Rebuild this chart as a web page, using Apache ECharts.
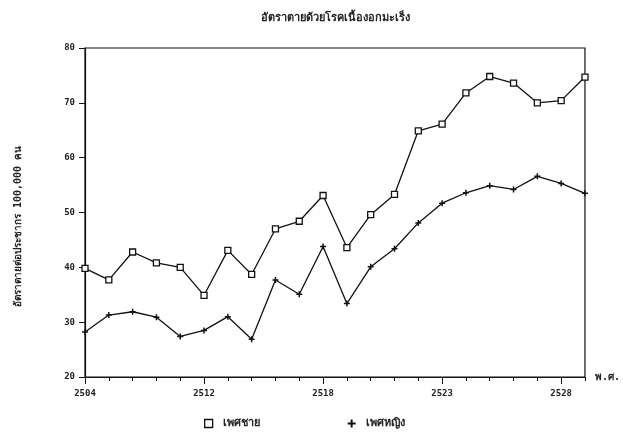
<!DOCTYPE html>
<html>
<head>
<meta charset="utf-8">
<script src="https://cdn.jsdelivr.net/npm/echarts@6/dist/echarts.min.js"></script>
<style>html,body{margin:0;padding:0;background:#fff;}#c{width:623px;height:448px;}</style>
</head>
<body>
<div id="c"></div>
<script>
// 22 yearly points; labels shown only at selected positions as in the original
const categories = ['0','1','2','3','4','5','6','7','8','9','10','11','12','13','14','15','16','17','18','19','20','21'];
const tickLabels = ['2504','','','','','2512','','','','','2518','','','','','2523','','','','','2528',''];
const maleValues = [39.8, 37.7, 42.8, 40.8, 40.0, 34.9, 43.1, 38.7, 47.0, 48.4, 53.1, 43.6, 49.6, 53.3, 64.9, 66.1, 71.8, 74.8, 73.6, 70.0, 70.4, 74.7];
const femaleValues = [28.2, 31.3, 31.9, 30.9, 27.4, 28.5, 31.0, 26.9, 37.7, 35.1, 43.8, 33.4, 40.1, 43.4, 48.1, 51.7, 53.6, 54.9, 54.2, 56.6, 55.3, 53.5];
const yTicks = [20, 80, 10];
const titleText = 'อัตราตายด้วยโรคเนื้องอกมะเร็ง';
const yName = 'อัตราตายต่อประชากร 100,000 คน';
const xName = 'พ.ศ.';
const maleName = 'เพศชาย';
const femaleName = 'เพศหญิง';

const FONT = '"DejaVu Sans Mono", "Liberation Mono", "Noto Sans", sans-serif';
const plus = 'path://M3,0H5V3H8V5H5V8H3V5H0V3H3Z';
const chart = echarts.init(document.getElementById('c'));
chart.setOption({
  backgroundColor: '#fff',
  animation: false,
  title: {
    text: titleText, left: 256, top: 8,
    textStyle: {fontSize: 11, fontWeight: 'bold', color: '#222', fontFamily: FONT}
  },
  legend: {
    bottom: 14, left: 199, itemGap: 88, itemWidth: 8, itemHeight: 8,
    textStyle: {fontSize: 11, fontWeight: 'bold', color: '#222', fontFamily: FONT, padding: [0, 0, 0, 5]},
    data: [
      {name: maleName, icon: 'rect', itemStyle: {color: '#fff', borderColor: '#111', borderWidth: 1.3}},
      {name: femaleName, icon: plus, itemStyle: {color: '#111'}}
    ]
  },
  grid: {left: 85, right: 38, top: 48, bottom: 71, show: true, borderColor: '#111', borderWidth: 1.2, backgroundColor: 'transparent'},
  xAxis: [{
    type: 'category', data: categories, boundaryGap: false,
    name: xName, nameLocation: 'end', nameGap: 10,
    nameTextStyle: {fontSize: 10, fontWeight: 'bold', color: '#222', fontFamily: FONT, verticalAlign: 'middle'},
    axisLine: {lineStyle: {color: '#111', width: 1.2}},
    axisTick: {interval: 0, length: 4, lineStyle: {color: '#111'}},
    axisLabel: {interval: 0, margin: 12, fontSize: 9, fontWeight: 'bold', color: '#222', fontFamily: FONT,
      formatter: (v, i) => tickLabels[i]}
  }, {
    type: 'category', data: categories, boundaryGap: false, position: 'bottom',
    axisLine: {show: false},
    axisTick: {interval: 4, length: 7, lineStyle: {color: '#111'}},
    axisLabel: {show: false}
  }],
  yAxis: {
    type: 'value', min: yTicks[0], max: yTicks[1], interval: yTicks[2],
    name: yName, nameLocation: 'middle', nameRotate: 90, nameGap: 62,
    nameTextStyle: {fontSize: 10, fontWeight: 'bold', color: '#222', fontFamily: FONT, padding: [0, 28, 0, 0]},
    axisLine: {show: true, lineStyle: {color: '#111', width: 1.2}},
    axisTick: {show: true, length: 6, lineStyle: {color: '#111'}},
    axisLabel: {margin: 10, fontSize: 9, fontWeight: 'bold', color: '#222', fontFamily: FONT},
    splitLine: {show: false}
  },
  series: [{
    name: maleName, type: 'line', data: maleValues, xAxisIndex: 0,
    symbol: 'rect', symbolSize: 6, showAllSymbol: true,
    lineStyle: {color: '#111', width: 1.3},
    itemStyle: {color: '#fff', borderColor: '#111', borderWidth: 1.3}
  }, {
    name: femaleName, type: 'line', data: femaleValues, xAxisIndex: 0,
    symbol: plus, symbolSize: 6, showAllSymbol: true,
    lineStyle: {color: '#111', width: 1.3},
    itemStyle: {color: '#111'}
  }]
});
</script>
</body>
</html>
